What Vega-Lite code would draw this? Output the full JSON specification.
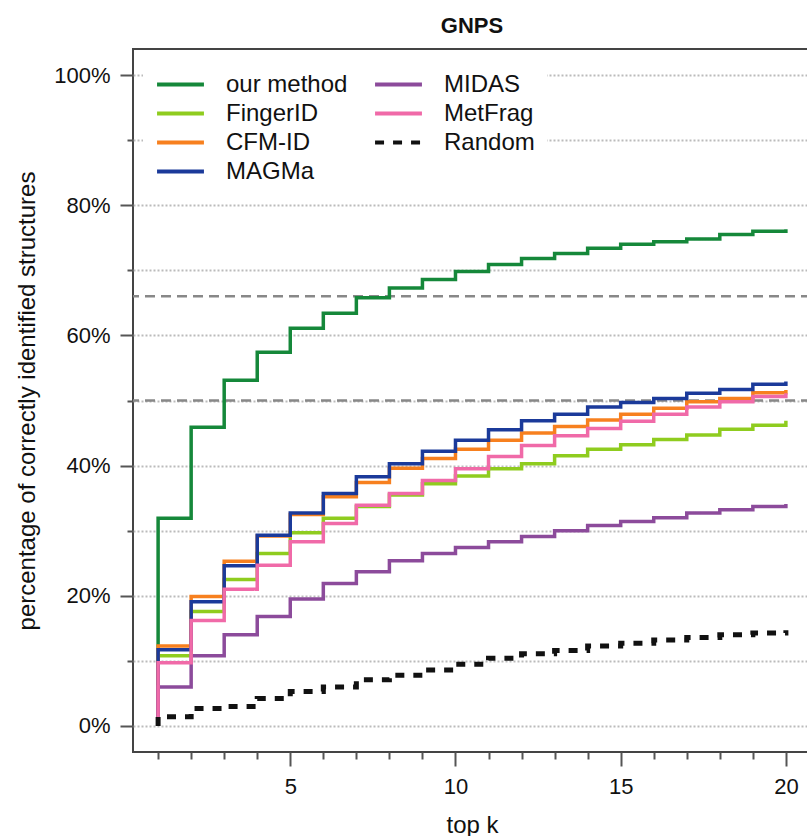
{
  "$schema": "https://vega.github.io/schema/vega-lite/v6.json",
  "width": 678,
  "height": 703,
  "autosize": "none",
  "padding": {"left": 133, "top": 49, "right": 0, "bottom": 84},
  "background": "white",
  "config": {
    "font": "Liberation Sans",
    "view": {"stroke": "#444", "strokeWidth": 2}
  },
  "title": {"text": "GNPS", "fontSize": 22, "fontWeight": "bold", "color": "#111", "anchor": "middle", "offset": 11},
  "datasets": {
    "refs": [{"pct": 0.66}, {"pct": 0.5}],
    "lines": [
      {"method": "our method", "k": 1, "pct": 0},
      {"method": "our method", "k": 1, "pct": 0.319},
      {"method": "our method", "k": 2, "pct": 0.459},
      {"method": "our method", "k": 3, "pct": 0.531},
      {"method": "our method", "k": 4, "pct": 0.574},
      {"method": "our method", "k": 5, "pct": 0.611},
      {"method": "our method", "k": 6, "pct": 0.634},
      {"method": "our method", "k": 7, "pct": 0.658},
      {"method": "our method", "k": 8, "pct": 0.673},
      {"method": "our method", "k": 9, "pct": 0.686},
      {"method": "our method", "k": 10, "pct": 0.698},
      {"method": "our method", "k": 11, "pct": 0.709},
      {"method": "our method", "k": 12, "pct": 0.718},
      {"method": "our method", "k": 13, "pct": 0.726},
      {"method": "our method", "k": 14, "pct": 0.734},
      {"method": "our method", "k": 15, "pct": 0.740},
      {"method": "our method", "k": 16, "pct": 0.744},
      {"method": "our method", "k": 17, "pct": 0.748},
      {"method": "our method", "k": 18, "pct": 0.755},
      {"method": "our method", "k": 19, "pct": 0.760},
      {"method": "our method", "k": 20, "pct": 0.763},
      {"method": "FingerID", "k": 1, "pct": 0},
      {"method": "FingerID", "k": 1, "pct": 0.108},
      {"method": "FingerID", "k": 2, "pct": 0.176},
      {"method": "FingerID", "k": 3, "pct": 0.225},
      {"method": "FingerID", "k": 4, "pct": 0.265},
      {"method": "FingerID", "k": 5, "pct": 0.297},
      {"method": "FingerID", "k": 6, "pct": 0.319},
      {"method": "FingerID", "k": 7, "pct": 0.337},
      {"method": "FingerID", "k": 8, "pct": 0.355},
      {"method": "FingerID", "k": 9, "pct": 0.372},
      {"method": "FingerID", "k": 10, "pct": 0.384},
      {"method": "FingerID", "k": 11, "pct": 0.395},
      {"method": "FingerID", "k": 12, "pct": 0.403},
      {"method": "FingerID", "k": 13, "pct": 0.415},
      {"method": "FingerID", "k": 14, "pct": 0.425},
      {"method": "FingerID", "k": 15, "pct": 0.432},
      {"method": "FingerID", "k": 16, "pct": 0.440},
      {"method": "FingerID", "k": 17, "pct": 0.447},
      {"method": "FingerID", "k": 18, "pct": 0.456},
      {"method": "FingerID", "k": 19, "pct": 0.462},
      {"method": "FingerID", "k": 20, "pct": 0.469},
      {"method": "CFM-ID", "k": 1, "pct": 0},
      {"method": "CFM-ID", "k": 1, "pct": 0.123},
      {"method": "CFM-ID", "k": 2, "pct": 0.199},
      {"method": "CFM-ID", "k": 3, "pct": 0.253},
      {"method": "CFM-ID", "k": 4, "pct": 0.292},
      {"method": "CFM-ID", "k": 5, "pct": 0.325},
      {"method": "CFM-ID", "k": 6, "pct": 0.352},
      {"method": "CFM-ID", "k": 7, "pct": 0.374},
      {"method": "CFM-ID", "k": 8, "pct": 0.396},
      {"method": "CFM-ID", "k": 9, "pct": 0.411},
      {"method": "CFM-ID", "k": 10, "pct": 0.425},
      {"method": "CFM-ID", "k": 11, "pct": 0.439},
      {"method": "CFM-ID", "k": 12, "pct": 0.450},
      {"method": "CFM-ID", "k": 13, "pct": 0.460},
      {"method": "CFM-ID", "k": 14, "pct": 0.470},
      {"method": "CFM-ID", "k": 15, "pct": 0.479},
      {"method": "CFM-ID", "k": 16, "pct": 0.488},
      {"method": "CFM-ID", "k": 17, "pct": 0.498},
      {"method": "CFM-ID", "k": 18, "pct": 0.503},
      {"method": "CFM-ID", "k": 19, "pct": 0.512},
      {"method": "CFM-ID", "k": 20, "pct": 0.516},
      {"method": "MAGMa", "k": 1, "pct": 0},
      {"method": "MAGMa", "k": 1, "pct": 0.117},
      {"method": "MAGMa", "k": 2, "pct": 0.191},
      {"method": "MAGMa", "k": 3, "pct": 0.246},
      {"method": "MAGMa", "k": 4, "pct": 0.293},
      {"method": "MAGMa", "k": 5, "pct": 0.327},
      {"method": "MAGMa", "k": 6, "pct": 0.357},
      {"method": "MAGMa", "k": 7, "pct": 0.383},
      {"method": "MAGMa", "k": 8, "pct": 0.403},
      {"method": "MAGMa", "k": 9, "pct": 0.422},
      {"method": "MAGMa", "k": 10, "pct": 0.439},
      {"method": "MAGMa", "k": 11, "pct": 0.455},
      {"method": "MAGMa", "k": 12, "pct": 0.469},
      {"method": "MAGMa", "k": 13, "pct": 0.479},
      {"method": "MAGMa", "k": 14, "pct": 0.490},
      {"method": "MAGMa", "k": 15, "pct": 0.497},
      {"method": "MAGMa", "k": 16, "pct": 0.503},
      {"method": "MAGMa", "k": 17, "pct": 0.511},
      {"method": "MAGMa", "k": 18, "pct": 0.517},
      {"method": "MAGMa", "k": 19, "pct": 0.525},
      {"method": "MAGMa", "k": 20, "pct": 0.529},
      {"method": "MIDAS", "k": 1, "pct": 0},
      {"method": "MIDAS", "k": 1, "pct": 0.060},
      {"method": "MIDAS", "k": 2, "pct": 0.108},
      {"method": "MIDAS", "k": 3, "pct": 0.140},
      {"method": "MIDAS", "k": 4, "pct": 0.168},
      {"method": "MIDAS", "k": 5, "pct": 0.195},
      {"method": "MIDAS", "k": 6, "pct": 0.219},
      {"method": "MIDAS", "k": 7, "pct": 0.237},
      {"method": "MIDAS", "k": 8, "pct": 0.254},
      {"method": "MIDAS", "k": 9, "pct": 0.265},
      {"method": "MIDAS", "k": 10, "pct": 0.274},
      {"method": "MIDAS", "k": 11, "pct": 0.283},
      {"method": "MIDAS", "k": 12, "pct": 0.291},
      {"method": "MIDAS", "k": 13, "pct": 0.300},
      {"method": "MIDAS", "k": 14, "pct": 0.308},
      {"method": "MIDAS", "k": 15, "pct": 0.314},
      {"method": "MIDAS", "k": 16, "pct": 0.320},
      {"method": "MIDAS", "k": 17, "pct": 0.327},
      {"method": "MIDAS", "k": 18, "pct": 0.332},
      {"method": "MIDAS", "k": 19, "pct": 0.337},
      {"method": "MIDAS", "k": 20, "pct": 0.341},
      {"method": "MetFrag", "k": 1, "pct": 0},
      {"method": "MetFrag", "k": 1, "pct": 0.097},
      {"method": "MetFrag", "k": 2, "pct": 0.162},
      {"method": "MetFrag", "k": 3, "pct": 0.210},
      {"method": "MetFrag", "k": 4, "pct": 0.247},
      {"method": "MetFrag", "k": 5, "pct": 0.283},
      {"method": "MetFrag", "k": 6, "pct": 0.311},
      {"method": "MetFrag", "k": 7, "pct": 0.339},
      {"method": "MetFrag", "k": 8, "pct": 0.357},
      {"method": "MetFrag", "k": 9, "pct": 0.377},
      {"method": "MetFrag", "k": 10, "pct": 0.395},
      {"method": "MetFrag", "k": 11, "pct": 0.414},
      {"method": "MetFrag", "k": 12, "pct": 0.431},
      {"method": "MetFrag", "k": 13, "pct": 0.446},
      {"method": "MetFrag", "k": 14, "pct": 0.457},
      {"method": "MetFrag", "k": 15, "pct": 0.468},
      {"method": "MetFrag", "k": 16, "pct": 0.479},
      {"method": "MetFrag", "k": 17, "pct": 0.490},
      {"method": "MetFrag", "k": 18, "pct": 0.498},
      {"method": "MetFrag", "k": 19, "pct": 0.506},
      {"method": "MetFrag", "k": 20, "pct": 0.511},
      {"method": "Random", "k": 1, "pct": 0},
      {"method": "Random", "k": 1, "pct": 0.014},
      {"method": "Random", "k": 2, "pct": 0.027},
      {"method": "Random", "k": 3, "pct": 0.030},
      {"method": "Random", "k": 4, "pct": 0.042},
      {"method": "Random", "k": 5, "pct": 0.053},
      {"method": "Random", "k": 6, "pct": 0.060},
      {"method": "Random", "k": 7, "pct": 0.071},
      {"method": "Random", "k": 8, "pct": 0.078},
      {"method": "Random", "k": 9, "pct": 0.086},
      {"method": "Random", "k": 10, "pct": 0.095},
      {"method": "Random", "k": 11, "pct": 0.104},
      {"method": "Random", "k": 12, "pct": 0.111},
      {"method": "Random", "k": 13, "pct": 0.116},
      {"method": "Random", "k": 14, "pct": 0.123},
      {"method": "Random", "k": 15, "pct": 0.127},
      {"method": "Random", "k": 16, "pct": 0.132},
      {"method": "Random", "k": 17, "pct": 0.136},
      {"method": "Random", "k": 18, "pct": 0.140},
      {"method": "Random", "k": 19, "pct": 0.143},
      {"method": "Random", "k": 20, "pct": 0.147}
    ]
  },
  "layer": [
    {
      "data": {"name": "refs"},
      "mark": {"type": "rule", "color": "#888", "strokeWidth": 2.5, "strokeDash": [10, 6]},
      "encoding": {
        "y": {
          "field": "pct", "type": "quantitative",
          "scale": {"domain": [-0.04, 1.04], "nice": false, "zero": false},
          "axis": {
            "values": [0, 0.1, 0.2, 0.3, 0.4, 0.5, 0.6, 0.7, 0.8, 0.9, 1],
            "format": ".0%",
            "labelExpr": "round(datum.value*10) % 2 == 0 ? datum.label : ''",
            "tickSize": {"condition": {"test": "round(datum.value*10) % 2 == 0", "value": 13}, "value": 6},
            "tickColor": "#555", "tickWidth": 2,
            "grid": true, "gridDash": [2, 2], "gridColor": "#bbb", "gridWidth": 2,
            "domain": false,
            "labelFontSize": 22, "labelColor": "#111", "labelPadding": 10,
            "labelOverlap": false, "labelFlush": false,
            "title": "percentage of correctly identified structures",
            "titleFontSize": 24, "titleFontWeight": "normal", "titleColor": "#111", "titlePadding": 14
          }
        }
      }
    },
    {
      "data": {"name": "lines"},
      "mark": {"type": "line", "interpolate": "step-after"},
      "encoding": {
        "x": {
          "field": "k", "type": "quantitative",
          "scale": {"domain": [0.24, 20.76], "nice": false, "zero": false},
          "axis": {
            "values": [1, 2, 3, 4, 5, 6, 7, 8, 9, 10, 11, 12, 13, 14, 15, 16, 17, 18, 19, 20],
            "labelExpr": "datum.value % 5 == 0 ? datum.label : ''",
            "tickSize": {"condition": {"test": "datum.value % 5 == 0", "value": 14}, "value": 7},
            "tickColor": "#555", "tickWidth": 2,
            "grid": false, "domain": false,
            "labelFontSize": 22, "labelColor": "#111", "labelPadding": 10,
            "labelOverlap": false, "labelFlush": false,
            "title": "top k",
            "titleFontSize": 24, "titleFontWeight": "normal", "titleColor": "#111", "titlePadding": 16
          }
        },
        "y": {"field": "pct", "type": "quantitative"},
        "order": [{"field": "k", "type": "quantitative"}, {"field": "pct", "type": "quantitative"}],
        "strokeWidth": {"condition": {"test": "datum.method == 'Random'", "value": 5}, "value": 3.5},
        "color": {
          "field": "method", "type": "nominal",
          "scale": {
            "domain": ["our method", "FingerID", "CFM-ID", "MAGMa", "MIDAS", "MetFrag", "Random"],
            "range": ["#15883a", "#8fcc1f", "#f7801f", "#1b3a9a", "#8c4b9b", "#f06aa8", "#111111"]
          },
          "legend": {
            "orient": "none", "legendX": 10, "legendY": 9, "columns": 2, "title": null,
            "labelFontSize": 24, "labelColor": "#111", "symbolType": "stroke", "symbolStrokeWidth": 4,
            "symbolSize": 2200, "fillColor": "white", "padding": 12, "rowPadding": 0, "clipHeight": 29,
            "columnPadding": 25, "labelOffset": 20
          }
        },
        "strokeDash": {
          "field": "method", "type": "nominal",
          "scale": {
            "domain": ["our method", "FingerID", "CFM-ID", "MAGMa", "MIDAS", "MetFrag", "Random"],
            "range": [[1, 0], [1, 0], [1, 0], [1, 0], [1, 0], [1, 0], [9, 9]]
          },
          "legend": {
            "orient": "none", "legendX": 10, "legendY": 9, "columns": 2, "title": null,
            "labelFontSize": 24, "labelColor": "#111", "symbolType": "stroke", "symbolStrokeWidth": 4,
            "symbolSize": 2200, "fillColor": "white", "padding": 12, "rowPadding": 0, "clipHeight": 29,
            "columnPadding": 25, "labelOffset": 20
          }
        }
      }
    }
  ]
}
